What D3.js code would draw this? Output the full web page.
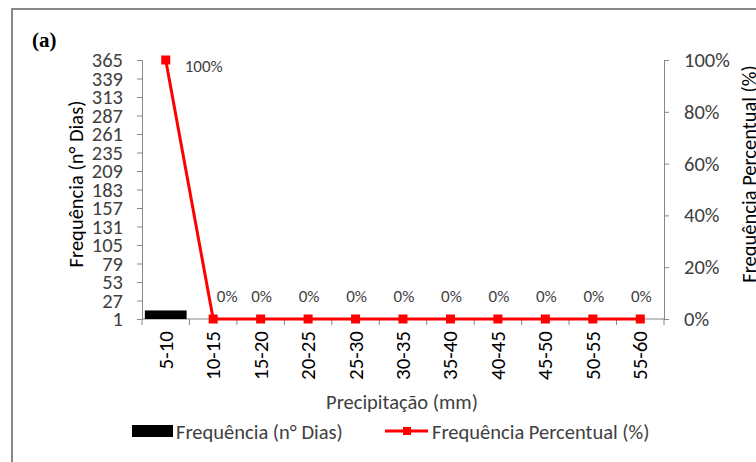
<!DOCTYPE html>
<html>
<head>
<meta charset="utf-8">
<script src="https://cdn.jsdelivr.net/npm/d3@7"></script>
<style>
  html, body { margin: 0; padding: 0; background: #fff; }
  svg { display: block; }
  text { font-family: Carlito, Lato, "Open Sans", sans-serif; }
</style>
</head>
<body>
<svg id="chart" width="756" height="462"></svg>
<script>
// ---- data ----
const categories = ["5-10","10-15","15-20","20-25","25-30","30-35","35-40","40-45","45-50","50-55","55-60"];
const frequencyDays = [13, 0, 0, 0, 0, 0, 0, 0, 0, 0, 0];
const frequencyPercent = [1, 0, 0, 0, 0, 0, 0, 0, 0, 0, 0];
const leftTicks = [1,27,53,79,105,131,157,183,209,235,261,287,313,339,365];
const rightTicks = [0, 0.2, 0.4, 0.6, 0.8, 1];

const svg = d3.select("#chart");
const plot = { left: 142, right: 664, top: 60, bottom: 319 };
const axisColor = "#868686";
const textColor = "#404040";

// frame
svg.append("rect").attr("x", 12).attr("y", 9).attr("width", 760).attr("height", 460)
  .attr("fill", "#fff").attr("stroke", "#888").attr("stroke-width", 2);

// panel label
svg.append("text").attr("x", 32).attr("y", 47)
  .style("font-family", "'Liberation Serif', 'Times New Roman', serif")
  .style("font-weight", "bold").style("font-size", "21px").attr("fill", "#000")
  .text("(a)");

const x = d3.scaleBand().domain(categories).range([plot.left, plot.right]).padding(0);
const yL = d3.scaleLinear().domain([1, 365]).range([plot.bottom, plot.top]);
const yR = d3.scaleLinear().domain([0, 1]).range([plot.bottom, plot.top]);

// left axis
const gL = svg.append("g").attr("transform", `translate(${plot.left},0)`)
  .call(d3.axisLeft(yL).tickValues(leftTicks).tickSize(5).tickPadding(14));
// right axis
const gR = svg.append("g").attr("transform", `translate(${plot.right},0)`)
  .call(d3.axisRight(yR).tickValues(rightTicks).tickFormat(d3.format(".0%")).tickSize(5).tickPadding(15));
[gL, gR].forEach(g => {
  g.select(".domain").attr("stroke", axisColor).attr("stroke-width", 1);
  g.selectAll(".tick line").attr("stroke", axisColor);
  g.selectAll(".tick text").attr("fill", textColor).style("font-size", "20.5px")
    .style("font-family", "Carlito, Lato, sans-serif");
});

// bottom axis: tick marks at category boundaries
const gB = svg.append("g").attr("transform", `translate(0,${plot.bottom})`);
gB.append("line").attr("x1", plot.left).attr("x2", plot.right).attr("y1", 0).attr("y2", 0)
  .attr("stroke", axisColor);
const bounds = categories.map(c => x(c)).concat([x(categories[categories.length-1]) + x.bandwidth()]);
gB.selectAll("line.tk").data(bounds).enter().append("line").attr("class","tk")
  .attr("x1", d => d).attr("x2", d => d).attr("y1", 0).attr("y2", 6).attr("stroke", axisColor);
gB.selectAll("text.cat").data(categories).enter().append("text").attr("class","cat")
  .attr("transform", d => `translate(${x(d) + x.bandwidth()/2 + 7},12) rotate(-90)`)
  .attr("text-anchor", "end").attr("fill", "#000").style("font-size", "21px")
  .text(d => d);

// bars
const barW = x.bandwidth() * 0.88;
svg.append("g").selectAll("rect").data(categories).enter().append("rect")
  .attr("x", d => x(d) + (x.bandwidth() - barW)/2)
  .attr("y", (d,i) => yL(Math.max(1, frequencyDays[i])))
  .attr("width", barW)
  .attr("height", (d,i) => yL(1) - yL(Math.max(1, frequencyDays[i])))
  .attr("fill", "#000");

// line
const cx = d => x(d) + x.bandwidth()/2;
const line = d3.line().x((d,i) => cx(categories[i])).y(d => yR(d));
svg.append("path").datum(frequencyPercent).attr("d", line)
  .attr("fill", "none").attr("stroke", "#ff0000").attr("stroke-width", 3);
svg.append("g").selectAll("rect").data(frequencyPercent).enter().append("rect")
  .attr("x", (d,i) => cx(categories[i]) - 4.5).attr("y", d => yR(d) - 4.5)
  .attr("width", 9).attr("height", 9).attr("fill", "#ff0000");

// data labels
const fmt = d3.format(".0%");
svg.append("g").selectAll("text").data(frequencyPercent).enter().append("text")
  .attr("x", (d,i) => i === 0 ? cx(categories[i]) + 19 : cx(categories[i]) + (i === 1 ? 14 : 1))
  .attr("y", (d,i) => i === 0 ? yR(d) + 12 : yR(d) - 17)
  .attr("text-anchor", (d,i) => i === 0 ? "start" : "middle")
  .attr("fill", textColor).style("font-size", "17px")
  .text(d => fmt(d));

// axis titles
svg.append("text").attr("transform", `translate(${(plot.left+plot.right)/2 - 1},409)`)
  .attr("text-anchor", "middle").attr("fill", textColor).style("font-size", "20.5px")
  .text("Precipitação (mm)");
svg.append("text").attr("transform", `translate(83,184) rotate(-90)`)
  .attr("text-anchor", "middle").attr("fill", "#000").style("font-size", "20.5px")
  .text("Frequência (n° Dias)");
svg.append("text").attr("transform", `translate(756,174) rotate(-90)`)
  .attr("text-anchor", "middle").attr("fill", "#000").style("font-size", "20.5px")
  .text("Frequência Percentual (%)");

// legend
const lg = svg.append("g");
lg.append("rect").attr("x", 132).attr("y", 425).attr("width", 41).attr("height", 12).attr("fill", "#000");
lg.append("text").attr("x", 176).attr("y", 439).attr("fill", textColor).style("font-size", "20.5px")
  .text("Frequência (n° Dias)");
lg.append("line").attr("x1", 385).attr("x2", 428).attr("y1", 431).attr("y2", 431)
  .attr("stroke", "#ff0000").attr("stroke-width", 3);
lg.append("rect").attr("x", 403).attr("y", 427).attr("width", 8).attr("height", 8).attr("fill", "#ff0000");
lg.append("text").attr("x", 432).attr("y", 439).attr("fill", textColor).style("font-size", "20.5px")
  .text("Frequência Percentual (%)");
</script>
</body>
</html>
